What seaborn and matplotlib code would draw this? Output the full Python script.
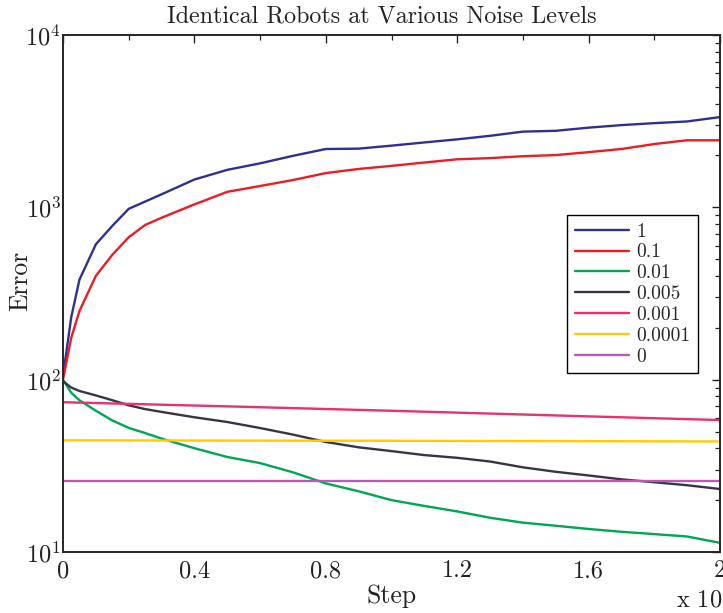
import numpy as np
import pandas as pd
import matplotlib
matplotlib.use("Agg")
import matplotlib.pyplot as plt
import matplotlib.ticker as mticker
import seaborn as sns

# ---------------- data ----------------
steps = [0, 250, 500, 1000, 1500, 2000, 2500, 3000, 4000, 5000, 6000, 7000, 8000,
         9000, 10000, 11000, 12000, 13000, 14000, 15000, 16000, 17000, 18000, 19000, 20000]
err_1 = [105, 230, 380, 610, 780, 980, 1080, 1190, 1450, 1650, 1800, 1990, 2180,
         2190, 2280, 2380, 2480, 2600, 2750, 2780, 2900, 3000, 3080, 3150, 3340]
err_01 = [100, 175, 250, 400, 530, 670, 790, 870, 1040, 1230, 1330, 1440, 1580,
          1670, 1740, 1820, 1900, 1930, 1980, 2010, 2090, 2180, 2330, 2450, 2450]
err_001 = [100, 84, 76, 66, 58, 52.5, 49, 45.5, 40, 35.6, 32.8, 29, 25,
           22.5, 20, 18.5, 17.2, 15.8, 14.8, 14.2, 13.6, 13.1, 12.7, 12.3, 11.3]
err_0005 = [98, 90, 86, 81, 76, 71, 67.5, 65, 60.5, 56.8, 52.4, 48, 43.5,
            40.5, 38.5, 36.5, 35.2, 33.5, 31, 29.2, 27.8, 26.4, 25.4, 24.4, 23.2]
flat_steps = [0, 5000, 10000, 15000, 20000]
err_0001 = [74, 70, 66, 62, 58.3]
err_00001 = [44.5, 44.3, 44.2, 44.0, 43.8]
err_0 = [25.8, 25.8, 25.8, 25.8, 25.8]

labels = ["1", "0.1", "0.01", "0.005", "0.001", "0.0001", "0"]
colors = ["#2E3192", "#ED1C24", "#00A651", "#363545", "#EC2F6F", "#FFCB05", "#B35EB5"]
xtick_vals = [0, 4000, 8000, 12000, 16000, 20000]

series = [(steps, err_1), (steps, err_01), (steps, err_001), (steps, err_0005),
          (flat_steps, err_0001), (flat_steps, err_00001), (flat_steps, err_0)]
frames = []
for lab, (xs, ys) in zip(labels, series):
    frames.append(pd.DataFrame({"Step": xs, "Error": ys, "Noise": lab}))
df = pd.concat(frames, ignore_index=True)

# ---------------- style ----------------
sns.set_theme(style="white")
plt.rcParams["font.family"] = ["cmr10", "DejaVu Serif"]
plt.rcParams["mathtext.fontset"] = "cm"
plt.rcParams["axes.formatter.use_mathtext"] = True
plt.rcParams["axes.unicode_minus"] = False

fig = plt.figure(figsize=(7.23, 6.13), dpi=100)
ax = fig.add_axes([63 / 723, 1 - 552 / 613, 657 / 723, 517 / 613])

sns.lineplot(data=df, x="Step", y="Error", hue="Noise", hue_order=labels,
             palette=dict(zip(labels, colors)), linewidth=1.7, ax=ax,
             estimator=None, sort=False)

ax.set_yscale("log")
ax.set_ylim(10, 1e4)
ax.set_xlim(0, 20000)
ax.set_xticks(xtick_vals)
ax.xaxis.set_major_formatter(mticker.FuncFormatter(lambda v, p: f"{v / 1e4:g}"))
ax.xaxis.set_minor_locator(mticker.MultipleLocator(2000))
ax.yaxis.set_major_locator(mticker.LogLocator(base=10, numticks=10))
ax.yaxis.set_minor_locator(mticker.LogLocator(base=10, subs=np.arange(2, 10), numticks=20))
ax.yaxis.set_major_formatter(mticker.LogFormatterSciNotation())

ax.tick_params(axis="both", which="both", direction="in", top=True, right=True,
               labelsize=17.5, colors="#222222")
ax.tick_params(axis="both", which="major", length=6, width=1)
ax.tick_params(axis="both", which="minor", length=3.5, width=0.9)
ax.tick_params(axis="x", which="major", pad=6)
ax.tick_params(axis="y", which="major", pad=1.5)
for s in ax.spines.values():
    s.set_color("#262626")
    s.set_linewidth(1.4)

ax.set_title("Identical Robots at Various Noise Levels", fontsize=17.3, x=0.4855, pad=9,
             color="#222222")
ax.set_xlabel("Step", fontsize=18.5, labelpad=1, color="#222222")
ax.set_ylabel("Error", fontsize=18.5, color="#222222")
ax.yaxis.set_label_coords(-0.047, 0.524)

fig.text(676 / 723, 1 - 600 / 613, r"x 10$^{4}$", fontsize=17.5, ha="left", va="center",
         color="#222222")

leg = ax.legend(loc="upper left", bbox_to_anchor=(0.767, 0.652), fontsize=14,
                handlelength=2.8, labelspacing=0.15, borderpad=0.4, handletextpad=0.35,
                frameon=True, fancybox=False, framealpha=1, edgecolor="black",
                borderaxespad=0)
leg.get_frame().set_linewidth(1.0)
for line in leg.get_lines():
    line.set_linewidth(1.7)

fig.savefig("out.png", dpi=100)
